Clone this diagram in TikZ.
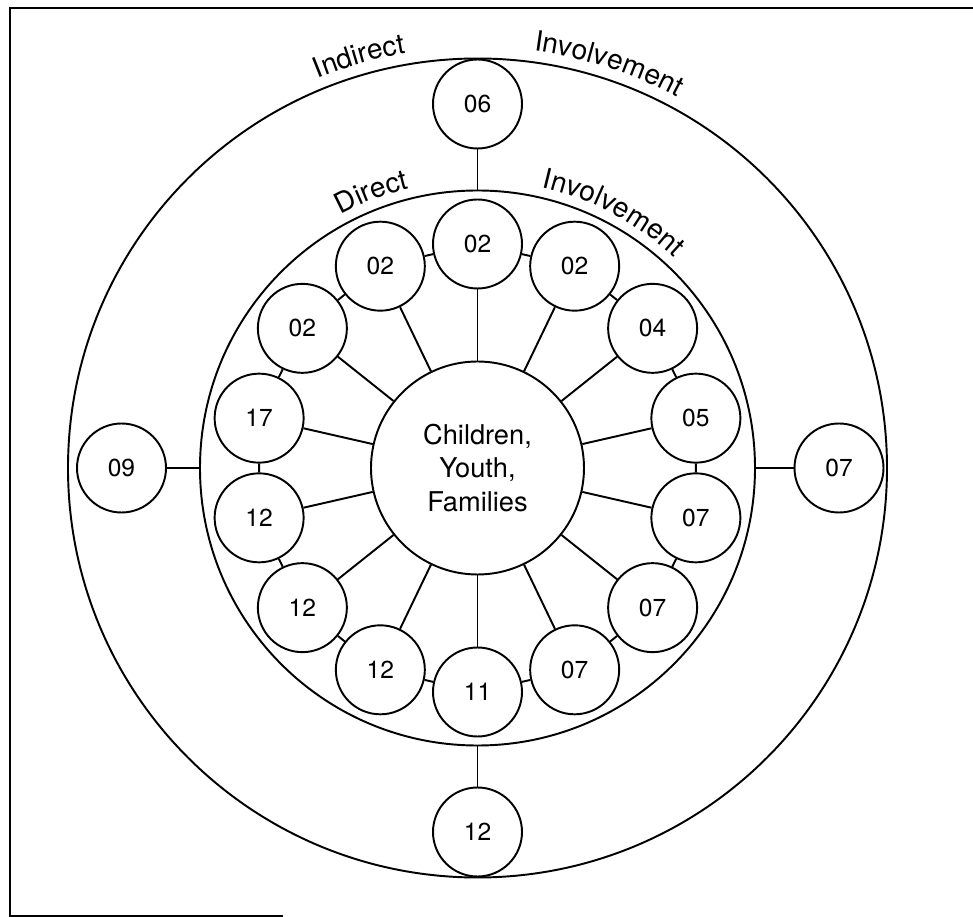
\documentclass[tikz,border=0pt]{standalone}
\usepackage{fontspec}
\setmainfont{TeX Gyre Heros}
\usetikzlibrary{decorations.text}
\newcommand\arcfont{\fontsize{16}{19}\selectfont}

\begin{document}
\begin{tikzpicture}[line width=1.1pt,
  zone/.style={circle, draw, inner sep=0pt, outer sep=0pt},
  hub/.style={circle, draw, minimum size=4.26cm, inner sep=0pt, align=center, font=\fontsize{15.5}{19}\selectfont},
  ring/.style={circle, draw, fill=white, minimum size=1.78cm, inner sep=0pt, font=\fontsize{14}{16}\selectfont}]
\useasboundingbox (-9.55,-8.98) rectangle (9.91,9.36);
\draw[line width=1.4pt] (9.91,9.2) -- (-9.35,9.2) -- (-9.35,-8.96) -- (-3.89,-8.96);
\node[zone, minimum size=16.38cm] (indirect) at (0,0) {};
\node[zone, minimum size=11.1cm] (direct) at (0,0) {};
\node[hub] (cyf) at (0,0) {Children,\\Youth,\\Families};
\path[decorate, decoration={text along path, text align=center, text={|\arcfont|Indirect}}] (126:8.42) arc[start angle=126, end angle=86, radius=8.42];
\path[decorate, decoration={text along path, text align=center, text={|\arcfont|Involvement}}] (92:8.42) arc[start angle=92, end angle=52, radius=8.42];
\path[decorate, decoration={text along path, text align=center, text={|\arcfont|Direct}}] (136:5.76) arc[start angle=136, end angle=86, radius=5.76];
\path[decorate, decoration={text along path, text align=center, text={|\arcfont|Involvement}}] (87:5.76) arc[start angle=87, end angle=37, radius=5.76];
\node[ring] (d1) at (90:4.48) {02};
\node[ring] (d2) at (64.29:4.48) {02};
\node[ring] (d3) at (38.57:4.48) {04};
\node[ring] (d4) at (12.86:4.48) {05};
\node[ring] (d5) at (-12.86:4.48) {07};
\node[ring] (d6) at (-38.57:4.48) {07};
\node[ring] (d7) at (-64.29:4.48) {07};
\node[ring] (d8) at (-90:4.48) {11};
\node[ring] (d9) at (-115.71:4.48) {12};
\node[ring] (d10) at (-141.43:4.48) {12};
\node[ring] (d11) at (-167.14:4.48) {12};
\node[ring] (d12) at (167.14:4.48) {17};
\node[ring] (d13) at (141.43:4.48) {02};
\node[ring] (d14) at (115.71:4.48) {02};
\node[ring] (i1) at (90:7.28) {06};
\node[ring] (i2) at (0:7.23) {07};
\node[ring] (i3) at (-90:7.28) {12};
\node[ring] (i4) at (180:7.12) {09};
\draw (cyf) -- (d1);
\draw (cyf) -- (d2);
\draw (cyf) -- (d3);
\draw (cyf) -- (d4);
\draw (cyf) -- (d5);
\draw (cyf) -- (d6);
\draw (cyf) -- (d7);
\draw (cyf) -- (d8);
\draw (cyf) -- (d9);
\draw (cyf) -- (d10);
\draw (cyf) -- (d11);
\draw (cyf) -- (d12);
\draw (cyf) -- (d13);
\draw (cyf) -- (d14);
\draw (d1) -- (d2) (d2) -- (d3) (d3) -- (d4) (d4) -- (d5) (d5) -- (d6) (d6) -- (d7) (d7) -- (d8);
\draw (d8) -- (d9) (d9) -- (d10) (d10) -- (d11) (d11) -- (d12) (d12) -- (d13) (d13) -- (d14) (d14) -- (d1);
\draw (i1) -- (direct);
\draw (i2) -- (direct);
\draw (i3) -- (direct);
\draw (i4) -- (direct);
\end{tikzpicture}
\end{document}
